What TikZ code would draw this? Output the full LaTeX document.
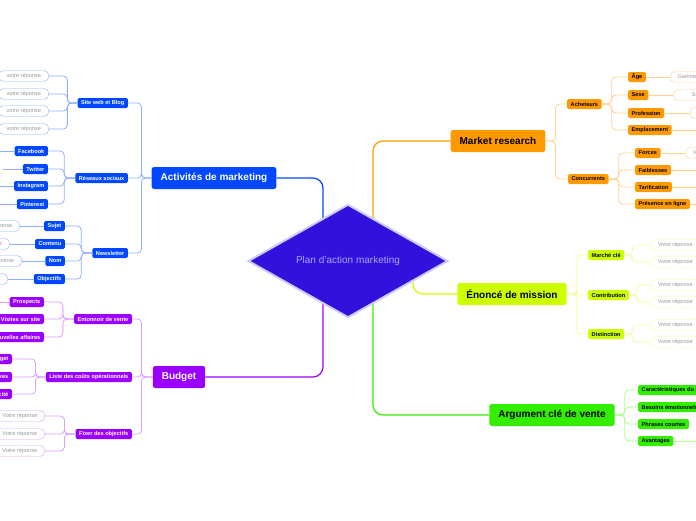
\documentclass[tikz,border=0pt]{standalone}
\usepackage{fontspec}
\setmainfont{Liberation Sans}
\usetikzlibrary{shapes.geometric}
\definecolor{actcolor}{HTML}{0048FF}
\definecolor{actline}{HTML}{8FB0FF}
\definecolor{budcolor}{HTML}{9B00FF}
\definecolor{budline}{HTML}{D9A0FF}
\definecolor{mrcolor}{HTML}{FF9900}
\definecolor{mrline}{HTML}{FFD090}
\definecolor{encolor}{HTML}{CCFF00}
\definecolor{enline}{HTML}{EEFF99}
\definecolor{argcolor}{HTML}{33EE00}
\definecolor{argline}{HTML}{AAFF88}
\definecolor{plancolor}{HTML}{3311DD}
\tikzset{
  mainbox/.style={fill=#1, rounded corners=2.5pt, minimum height=22pt, inner xsep=9pt, font=\fontsize{10}{11}\selectfont\bfseries},
  subbox/.style={fill=#1, rounded corners=1.5pt, minimum height=10pt, inner xsep=3.5pt, inner ysep=0pt, font=\fontsize{5.6}{6}\selectfont\bfseries},
  leafbox/.style={draw=#1, fill=white, rounded corners=5pt, minimum height=11pt, minimum width=50pt, inner xsep=4pt, inner ysep=0pt, text=gray!80, font=\fontsize{5.6}{6}\selectfont},
  link/.style={draw=#1, line width=0.8pt, rounded corners=4pt},
}
\begin{document}
\begin{tikzpicture}[x=1pt, y=-1pt]
    \useasboundingbox (0,0) rectangle (696,520);
    \clip (0,0) rectangle (696,520);

    % Main nodes
    \node[mainbox=actcolor, text=white] (act) at (214,178) {Activités de marketing};
    \node[mainbox=budcolor, text=white] (bud) at (179,377) {Budget};
    \node[mainbox=mrcolor] (mr) at (498,141) {Market research};
    \node[mainbox=encolor] (en) at (512,294) {Énoncé de mission};
    \node[mainbox=argcolor] (arg) at (552,415) {Argument clé de vente};

    % Anchors inside the diamond
    \coordinate (pa) at (323,226);
    \coordinate (pb) at (323,296);
    \coordinate (pm) at (373,226);
    \coordinate (pe) at (413,282);
    \coordinate (pg) at (373,296);
    \draw[link=actcolor, line width=1.2pt, rounded corners=10pt] (act.east) -| (pa);
    \draw[link=budcolor, line width=1.2pt, rounded corners=10pt] (bud.east) -| (pb);
    \draw[link=mrcolor, line width=1.2pt, rounded corners=10pt] (mr.west) -| (pm);
    \draw[link=encolor, line width=1.2pt, rounded corners=10pt] (en.west) -| (pe);
    \draw[link=argcolor, line width=1.2pt, rounded corners=10pt] (arg.west) -| (pg);

    % Central diamond
    \node[diamond, fill=plancolor, draw=blue!20, line width=2pt, minimum width=200pt, minimum height=104pt, inner sep=0pt, text=blue!35!white, font=\fontsize{10}{12}\selectfont] (plan) at (348,261) {Plan d'action marketing};

    % Activites de marketing
    \node[subbox=actcolor, text=white, anchor=east] (web) at (128,103) {Site web et Blog};
    \node[subbox=actcolor, text=white, anchor=east] (res) at (128,178) {Réseaux sociaux};
    \node[subbox=actcolor, text=white, anchor=east] (news) at (128,253) {Newsletter};
    \foreach \c in {web,res,news}
        \draw[link=actline] (\c.east) -| ([xshift=-10pt]act.west) -- (act.west);
    \foreach \y [count=\i] in {76,94,111,129} {
        \node[leafbox=actline, anchor=east] (web\i) at (49,\y) {votre réponse};
        \draw[link=actline] (web\i.east) -| ([xshift=-10pt]web.west) -- (web.west);
    }
    \foreach \t/\y [count=\i] in {Facebook/151, Twitter/169, Instagram/186, Pinterest/204} {
        \node[subbox=actcolor, text=white, anchor=east] (soc\i) at (48,\y) {\t};
        \draw[link=actline] (soc\i.east) -| ([xshift=-11pt]res.west) -- (res.west);
        \draw[link=actline] (soc\i.west) -- ++(-20,0);
    }
    \foreach \t/\y/\r [count=\i] in {Sujet/226/20, Contenu/244/10, Nom/261/22, Objectifs/279/8} {
        \node[subbox=actcolor, text=white, anchor=east] (nl\i) at (65,\y) {\t};
        \draw[link=actline] (nl\i.east) -| ([xshift=-11pt]news.west) -- (news.west);
        \node[leafbox=actline, anchor=east] (nlr\i) at (\r,\y) {Votre réponse};
        \draw[link=actline] (nlr\i.east) -- (nl\i.west);
    }

    % Budget
    \node[subbox=budcolor, text=white, anchor=east] (ent) at (132,319) {Entonnoir de vente};
    \node[subbox=budcolor, text=white, anchor=east] (cout) at (132,377) {Liste des coûts opérationnels};
    \node[subbox=budcolor, text=white, anchor=east] (obj) at (132,434) {Fixer des objectifs};
    \foreach \c in {ent,cout,obj}
        \draw[link=budline] (\c.east) -| ([xshift=-11pt]bud.west) -- (bud.west);
    \foreach \t/\y [count=\i] in {Prospects/302, Visites sur site/319, Nouvelles affaires/337} {
        \node[subbox=budcolor, text=white, anchor=east] (ent\i) at (44,\y) {\t};
        \draw[link=budline] (ent\i.east) -| ([xshift=-11pt]ent.west) -- (ent.west);
    }
    \draw[link=budline] (ent1.west) -- ++(-20,0);
    \foreach \t/\y [count=\i] in {Budget/359, Charges et taxes/377, Publicité/394} {
        \node[subbox=budcolor, text=white, anchor=east] (cout\i) at (12,\y) {\t};
        \draw[link=budline] (cout\i.east) -| ([xshift=-10pt]cout.west) -- (cout.west);
    }
    \foreach \y [count=\i] in {416,434,451} {
        \node[leafbox=budline, anchor=east] (obj\i) at (45,\y) {Votre réponse};
        \draw[link=budline] (obj\i.east) -| ([xshift=-11pt]obj.west) -- (obj.west);
    }

    % Market research
    \node[subbox=mrcolor, anchor=west] (ach) at (567,104) {Acheteurs};
    \node[subbox=mrcolor, anchor=west] (conc) at (568,179) {Concurrents};
    \foreach \c in {ach,conc}
        \draw[link=mrline] (\c.west) -| ([xshift=10pt]mr.east) -- (mr.east);
    \foreach \t/\y [count=\i] in {Âge/77, Sexe/95, Profession/113, Emplacement/130} {
        \node[subbox=mrcolor, anchor=west] (ach\i) at (628,\y) {\t};
        \draw[link=mrline] (ach\i.west) -| ([xshift=10pt]ach.east) -- (ach.east);
    }
    \node[leafbox=mrline, anchor=west] (age) at (670,77) {Gamme d'âge};
    \node[leafbox=mrline, anchor=west] (sexe) at (673,95) {Sexe};
    \node[leafbox=mrline, anchor=west] (prof) at (690,113) {Votre réponse};
    \draw[link=mrline] (ach1.east) -- (age.west);
    \draw[link=mrline] (ach2.east) -- (sexe.west);
    \draw[link=mrline] (ach3.east) -- (prof.west);
    \draw[link=mrline] (ach4.east) -- ++(30,0);
    \foreach \t/\y [count=\i] in {Forces/153, Faiblesses/170, Tarification/187, Présence en ligne/204} {
        \node[subbox=mrcolor, anchor=west] (conc\i) at (635,\y) {\t};
        \draw[link=mrline] (conc\i.west) -| ([xshift=10pt]conc.east) -- (conc.east);
        \draw[link=mrline] (conc\i.east) -- ++(30,0);
    }
    \node[leafbox=mrline, anchor=west] (force) at (685,153) {Votre réponse};

    % Enonce de mission
    \foreach \t/\y/\b [count=\i] in {Marché clé/255/245, Contribution/295/285, Distinction/334/325} {
        \node[subbox=encolor, anchor=west] (en\i) at (588,\y) {\t};
        \draw[link=enline] (en\i.west) -| ([xshift=10pt]en.east) -- (en.east);
        \node[leafbox=enline, anchor=west] (ena\i) at (650,\b) {Votre réponse};
        \node[leafbox=enline, anchor=west] (enb\i) at (650,\b+17) {Votre réponse};
        \draw[link=enline] (ena\i.west) -| ([xshift=8pt]en\i.east) -- (en\i.east);
        \draw[link=enline] (enb\i.west) -| ([xshift=8pt]en\i.east) -- (en\i.east);
    }

    % Argument cle de vente
    \foreach \t/\y [count=\i] in {Caractéristiques du produit/390, Besoins émotionnels/407, Phrases courtes/424, Avantages/441} {
        \node[subbox=argcolor, anchor=west] (arg\i) at (638,\y) {\t};
        \draw[link=argline] (arg\i.west) -| ([xshift=10pt]arg.east) -- (arg.east);
    }
    \draw[link=argline] (arg4.east) -- ++(30,0);
\end{tikzpicture}
\end{document}
